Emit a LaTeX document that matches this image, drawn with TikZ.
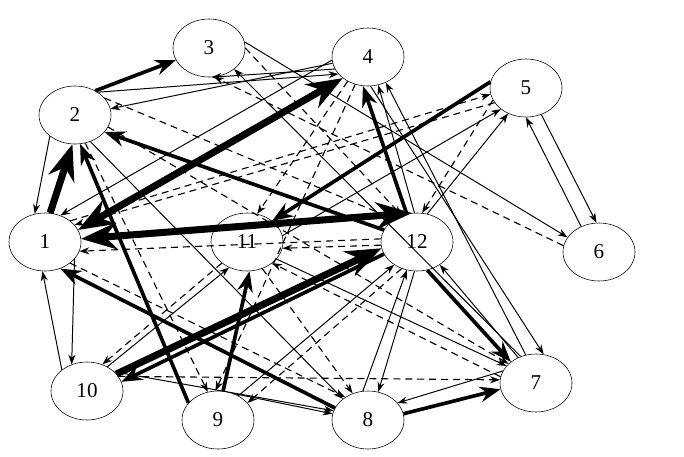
\documentclass[tikz,border=0pt]{standalone}
\usepackage{fontspec}
\setmainfont{Liberation Serif}
\usepackage{tikz}
\usetikzlibrary{arrows.meta}
\usetikzlibrary{shapes.geometric}

\tikzset{
  thin edge/.style={draw=black,line width=0.7pt},
  bold edge/.style={draw=black,line width=2.6pt},
  heavy edge/.style={draw=black,line width=5pt},
  dash edge/.style={draw=black,line width=0.8pt,dash pattern=on 5pt off 3.5pt},
}

\begin{document}
\begin{tikzpicture}[x=0.025cm,y=-0.025cm]
      \useasboundingbox (0,0) rectangle (684,456);

      \begin{scope}[every node/.style={ellipse,draw,thin,minimum width=1.8cm,
          minimum height=1.45cm,inner sep=0pt,font=\fontsize{15}{17}\selectfont}]
        \node (n1) at (45,242) {1};
        \node (n2) at (75,115) {2};
        \node (n3) at (209,48) {3};
        \node (n4) at (368,57) {4};
        \node (n5) at (526,88) {5};
        \node (n6) at (599,252) {6};
        \node (n7) at (536,383) {7};
        \node (n8) at (368,420) {8};
        \node (n9) at (218,420) {9};
        \node (n10) at (87,391) {10};
        \node (n11) at (247,242) {11};
        \node (n12) at (417,242) {12};
      \end{scope}

      \begin{scope}[>={Stealth[black,length=7pt,width=5pt]},every edge/.style={thin edge}]
        \path [->] (n2.220) edge (n1.110);
        \path [->] (n4.190) edge (n2.10);
        \path [->] (n2.45) edge (n4.210);
        \path [->] (n4.200) edge (n3.275);
        \path [->] (n3.10) edge (n6.155);
        \path [->] (n5.300) edge (n6.95);
        \path [->] (n6.125) edge (n5.270);
        \path [->] (n1.330) edge (n10.120);
        \path [->] (n10.140) edge (n1.265);
        \path [->] (n12.95) edge (n4.290);
        \path [->] (n7.110) edge (n4.305);
        \path [->] (n4.275) edge (n7.75);
        \path [->] (n7.120) edge (n3.320);
        \path [->] (n8.100) edge (n12.250);
        \path [->] (n12.265) edge (n8.70);
        \path [->] (n9.50) edge (n12.225);
        \path [->] (n7.160) edge (n8.30);
        \path [->] (n7.125) edge (n12.315);
        \path [->] (n12.70) edge (n5.235);
        \path [->] (n11.10) edge (n5.220);
        \path [->] (n4.185) edge (n1.60);
        \path [->] (n9.60) edge (n8.170);
        \path [->] (n10.35) edge (n8.165);
        \path [->] (n10.50) edge (n11.235);
        \path [->] (n11.330) edge (n7.150);
        \path [->] (n2.300) edge (n8.140);
      \end{scope}

      \begin{scope}[>={Stealth[black,length=7pt,width=5pt]},every edge/.style={dash edge}]
        \path [->] (n2.30) edge (n12.135);
        \path [->] (n4.230) edge (n11.70);
        \path [->] (n2.290) edge (n9.110);
        \path [->] (n4.245) edge (n9.95);
        \path [->] (n6.170) edge (n3.280);
        \path [->] (n3.0) edge (n12.120);
        \path [->] (n5.200) edge (n12.80);
        \path [->] (n11.220) edge (n10.60);
        \path [->] (n1.40) edge (n5.190);
        \path [->] (n5.205) edge (n1.30);
        \path [->] (n12.175) edge (n1.345);
        \path [->] (n12.185) edge (n11.350);
        \path [->] (n7.170) edge (n11.320);
        \path [->] (n12.240) edge (n9.30);
        \path [->] (n11.300) edge (n8.120);
        \path [->] (n1.320) edge (n8.135);
        \path [->] (n10.25) edge (n7.175);
        \path [->] (n2.340) edge (n7.145);
      \end{scope}

      \begin{scope}[>={Stealth[black]},every edge/.style={bold edge}]
        \path [->] (n9.150) edge (n2.280);
        \path [->] (n12.160) edge (n2.330);
        \path [->] (n2.50) edge (n3.200);
        \path [->] (n5.170) edge (n11.40);
        \path [->] (n12.110) edge (n4.260);
        \path [->] (n12.200) edge (n10.15);
        \path [->] (n9.80) edge (n11.275);
        \path [->] (n8.160) edge (n1.300);
        \path [->] (n12.290) edge (n7.140);
        \path [->] (n8.10) edge (n7.190);
      \end{scope}

      \begin{scope}[>={Stealth[black]},every edge/.style={heavy edge}]
        \path [->] (n1.80) edge (n2.265);
        \path [<->] (n1.20) edge (n4.220);
        \path [<->] (n1.5) edge (n12.100);
        \path [->] (n10.30) edge (n12.190);
      \end{scope}
    \end{tikzpicture}
\end{document}
